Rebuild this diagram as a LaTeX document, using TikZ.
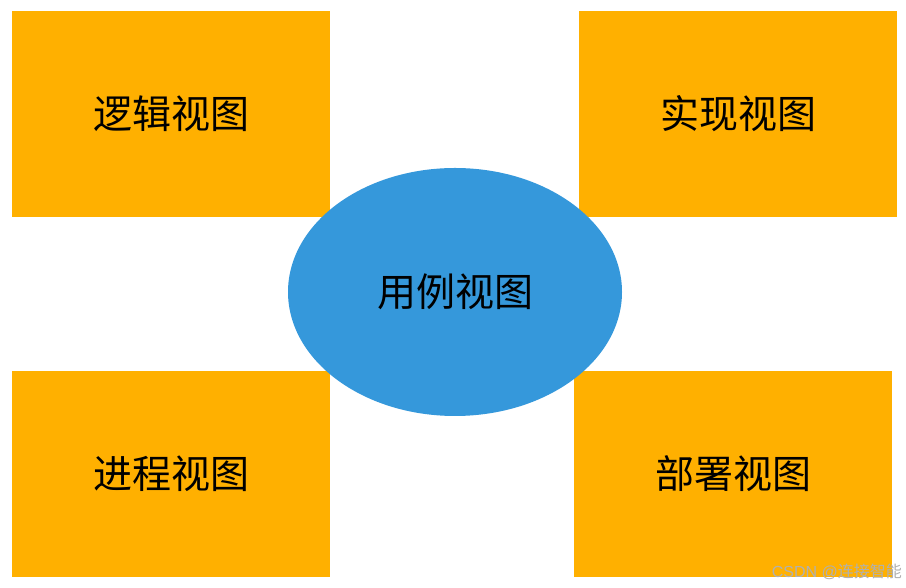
\documentclass[tikz,border=0pt]{standalone}
\usepackage{fontspec}
\usetikzlibrary{shapes.geometric}
\newfontfamily\cjk{Noto Sans CJK SC}
\newfontfamily\latinwm{Liberation Sans}
\definecolor{boxorange}{HTML}{FFB000}
\definecolor{ellblue}{HTML}{3598DB}
\definecolor{wmgray}{HTML}{B0B0B0}
\begin{document}
\begin{tikzpicture}[x=1pt,y=1pt,
  viewbox/.style={fill=boxorange,draw=none,minimum width=318pt,minimum height=206pt,inner sep=0pt,font=\cjk\fontsize{39}{45}\selectfont},
  usecase/.style={ellipse,fill=ellblue,draw=none,minimum width=334pt,minimum height=248pt,inner sep=0pt,font=\cjk\fontsize{39}{45}\selectfont}]
\useasboundingbox (0,0) rectangle (906,588);
\fill[white] (0,0) rectangle (906,588);
\node[viewbox] (logic) at (171,474) {逻辑视图};
\node[viewbox] (impl) at (738,474) {实现视图};
\node[viewbox] (proc) at (171,114) {进程视图};
\node[viewbox] (deploy) at (733,114) {部署视图};
\node[usecase] (uc) at (455,296) {用例视图};
\node[text=wmgray,font=\fontsize{16}{18}\selectfont,anchor=east,inner sep=0pt] (wm) at (902,16) {{\latinwm CSDN @}{\cjk 连接智能}};
\end{tikzpicture}
\end{document}
